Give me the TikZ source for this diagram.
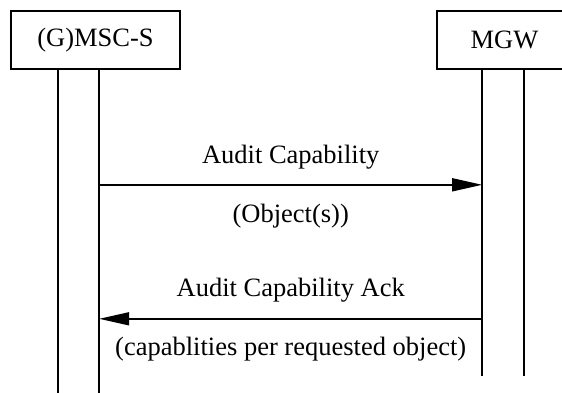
\documentclass[tikz,border=0pt]{standalone}
\usepackage{fontspec}
\setmainfont{Liberation Serif}
\usetikzlibrary{arrows.meta,positioning}

\begin{document}
\begin{tikzpicture}[
    x=1pt, y=1pt,
    entity/.style={rectangle, draw=black, line width=1.6pt, minimum height=58pt,
        font=\fontsize{26.5}{30}\selectfont, inner sep=0pt},
    lifeline/.style={draw=black, line width=1.6pt},
    message/.style={-{Triangle[length=30pt, width=13pt]}, line width=1.6pt, draw=black},
    msglabel/.style={font=\fontsize{26.5}{30}\selectfont, anchor=base, inner sep=0pt}
]
\useasboundingbox (0,0) rectangle (562,-392);
\clip (0,0) rectangle (562,-392);

\node[entity, minimum width=169pt] (msc) at (95.5,-40) {(G)MSC-S};
\node[entity, minimum width=135pt] (mgw) at (504.5,-40) {MGW};

% lifelines
\coordinate (mscA) at ([xshift=48pt]msc.south west);
\coordinate (mscB) at ([xshift=89pt]msc.south west);
\coordinate (mgwA) at ([xshift=46pt]mgw.south west);
\coordinate (mgwB) at ([xshift=88pt]mgw.south west);

\foreach \x in {mscA,mscB} {
    \draw[lifeline] (\x) -- ++(0,-323);
}
\foreach \x in {mgwA,mgwB} {
    \draw[lifeline] (\x) -- ++(0,-306);
}

\draw[message] ([yshift=-115pt]mscB) -- node[msglabel, yshift=21pt] {Audit Capability}
    node[msglabel, yshift=-38pt] {(Object(s))} ([yshift=-115pt]mgwA);
\draw[message] ([yshift=-249pt]mgwA) -- node[msglabel, yshift=22pt] {Audit Capability Ack}
    node[msglabel, yshift=-37pt] {(capablities per requested object)} ([yshift=-249pt]mscB);

\end{tikzpicture}
\end{document}
